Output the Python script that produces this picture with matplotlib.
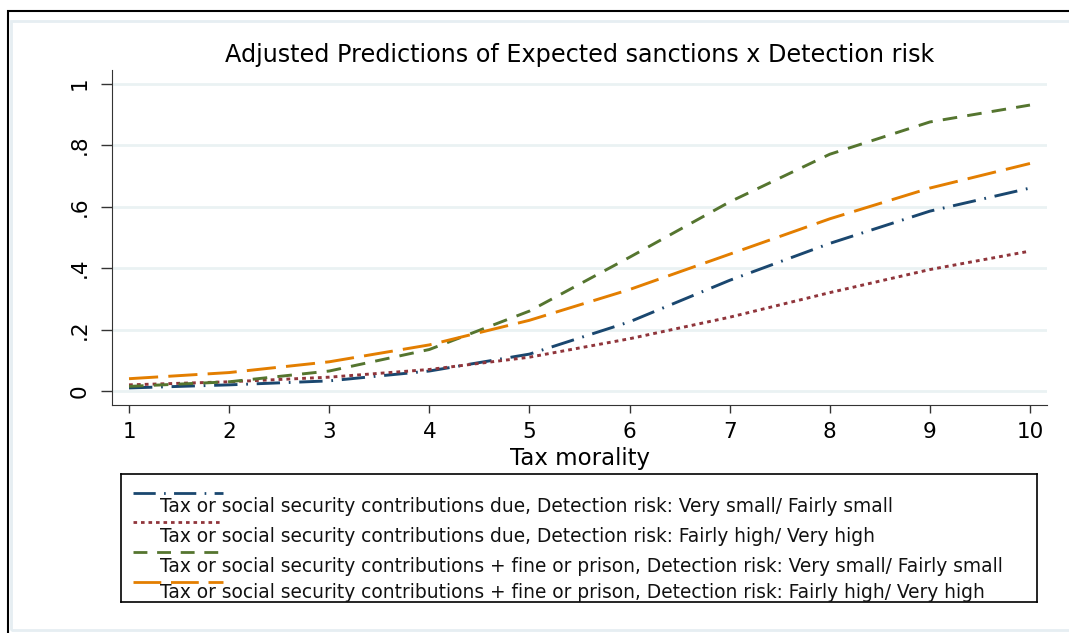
import matplotlib
matplotlib.use('Agg')

import matplotlib.pyplot as plt
from matplotlib.lines import Line2D
from matplotlib.patches import Rectangle

plt.rcParams['font.family'] = ['DejaVu Sans']

W, H = 1069, 633

tax_morality = [1, 2, 3, 4, 5, 6, 7, 8, 9, 10]
due_low_risk = [0.010, 0.020, 0.033, 0.065, 0.120, 0.225, 0.360, 0.480, 0.585, 0.660]
due_high_risk = [0.020, 0.030, 0.045, 0.070, 0.110, 0.170, 0.240, 0.320, 0.395, 0.455]
fine_low_risk = [0.015, 0.030, 0.065, 0.135, 0.260, 0.435, 0.615, 0.770, 0.875, 0.930]
fine_high_risk = [0.040, 0.060, 0.095, 0.150, 0.230, 0.330, 0.445, 0.560, 0.660, 0.740]

labels = [
    'Tax or social security contributions due, Detection risk: Very small/ Fairly small',
    'Tax or social security contributions due, Detection risk: Fairly high/ Very high',
    'Tax or social security contributions + fine or prison, Detection risk: Very small/ Fairly small',
    'Tax or social security contributions + fine or prison, Detection risk: Fairly high/ Very high',
]
colors = ['#1a476f', '#90353b', '#55752f', '#e37e00']
dashes = [(8, 3, 0.6, 3), (1.3, 1.4), (5, 3.5), (10, 3.5)]
series = [due_low_risk, due_high_risk, fine_low_risk, fine_high_risk]


def px(x0, y0, x1, y1):
    # pixel box (top-left origin) -> figure fraction rect
    return [x0 / W, 1 - y1 / H, (x1 - x0) / W, (y1 - y0) / H]


fig = plt.figure(figsize=(W / 100, H / 100), dpi=100)
fig.patch.set_facecolor('white')

# outer frame and graph region border
fig.patches.append(Rectangle((8 / W, -0.05), 1.1, 1 - 11 / H + 0.05, transform=fig.transFigure,
                             fill=False, edgecolor='black', linewidth=1.5))
fig.patches.append(Rectangle((11 / W, 3 / H), 1.1, 1 - 24 / H, transform=fig.transFigure,
                             fill=False, edgecolor='#e6eef2', linewidth=2))

ax = fig.add_axes(px(112, 70, 1047, 405))
for s, c, d in zip(series, colors, dashes):
    ax.plot(tax_morality, s, color=c, linewidth=2.1, dashes=d)

ax.set_xlim(0.83, 10.17)
ax.set_ylim(-0.0455, 1.044)
ax.set_xticks(tax_morality)
ax.set_yticks([0, 0.2, 0.4, 0.6, 0.8, 1.0])
ax.set_yticklabels(['0', '.2', '.4', '.6', '.8', '1'], rotation=90, va='center')
ax.grid(axis='y', color='#eaf2f3', linewidth=2)
ax.set_axisbelow(True)
ax.spines['top'].set_visible(False)
ax.spines['right'].set_visible(False)
ax.spines['left'].set_color('#333333')
ax.spines['bottom'].set_color('#333333')
ax.tick_params(axis='x', length=6, width=1, color='#333333', labelsize=15.5, pad=6)
ax.tick_params(axis='y', length=8, width=1, color='#333333', labelsize=15.5, pad=8)
ax.set_xlabel('Tax morality', fontsize=16.5, labelpad=4)
fig.text((112 + 1047) / 2 / W, 1 - 55 / H,
         'Adjusted Predictions of Expected sanctions x Detection risk',
         fontsize=17.2, ha='center', va='center')

# legend: key line above each label
lax = fig.add_axes(px(121, 474, 1037, 602))
lax.set_xlim(121, 1037)
lax.set_ylim(602, 474)
lax.set_xticks([])
lax.set_yticks([])
for sp in lax.spines.values():
    sp.set_color('black')
    sp.set_linewidth(1.2)
key_y = [493, 522, 552, 582]
text_y = [507, 537, 566, 592]
for ky, ty, c, d, lab in zip(key_y, text_y, colors, dashes, labels):
    lax.add_line(Line2D([133, 223], [ky, ky], color=c, linewidth=2, dashes=d))
    lax.text(160, ty, lab, fontsize=13.4, va='center', ha='left', color='#111111')

fig.savefig('out.png', dpi=100)
